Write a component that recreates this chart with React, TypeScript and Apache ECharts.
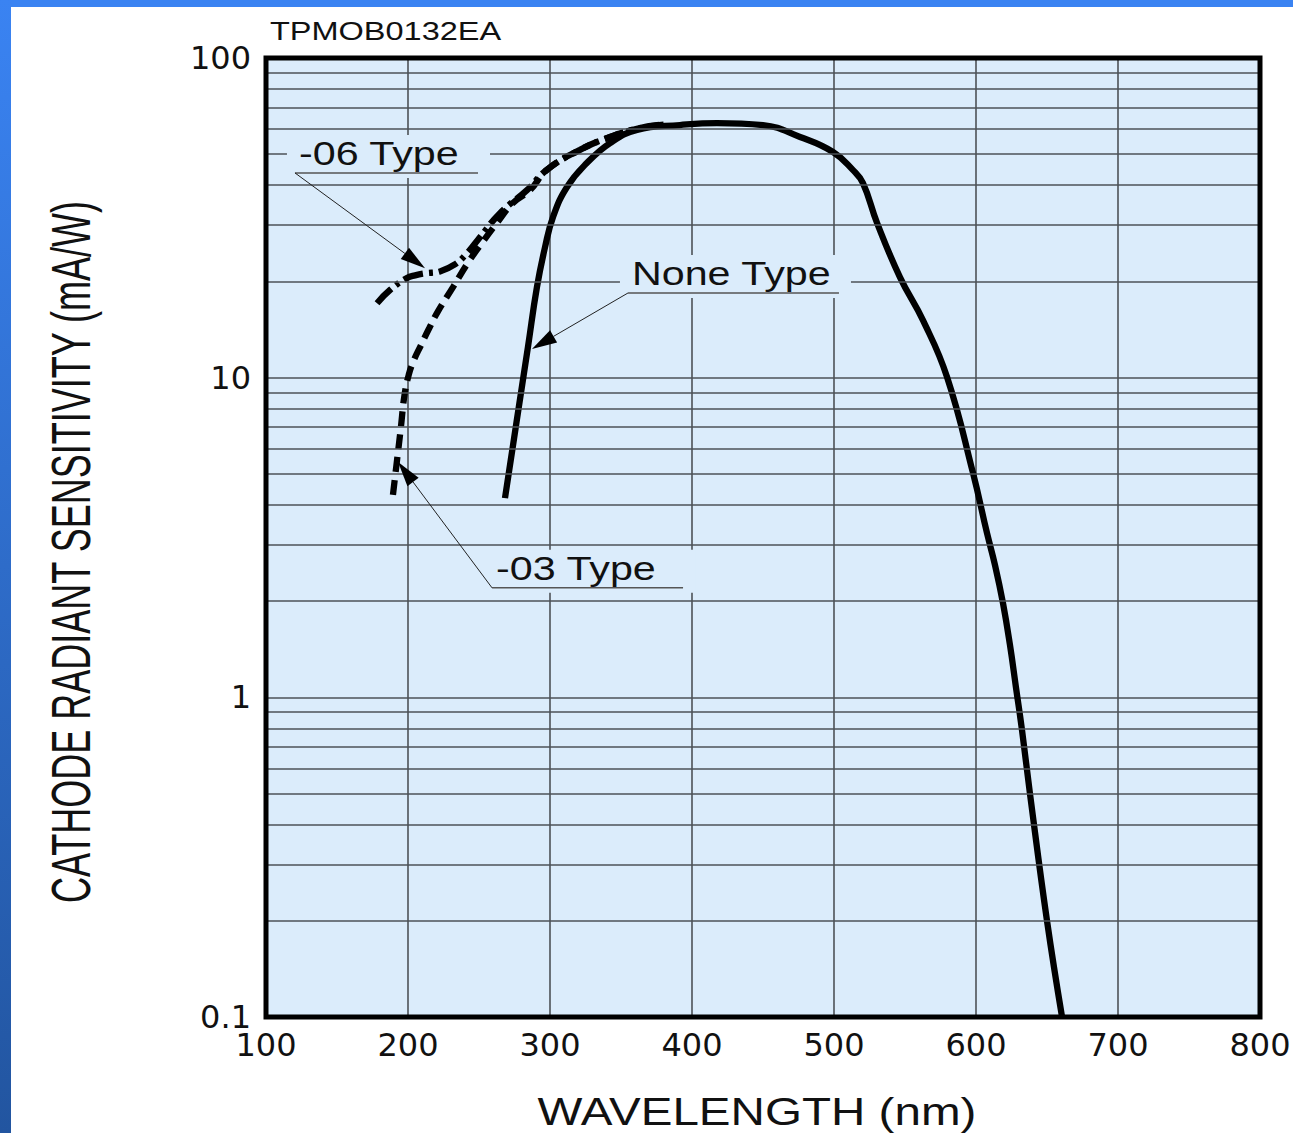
import React, { useEffect, useRef } from 'react';
import * as echarts from 'echarts';

// ---- data ----
const xTickValues = [100, 200, 300, 400, 500, 600, 700, 800];
const yTickValues = [0.1, 1, 10, 100];
const minorGridValues = [
  0.2, 0.3, 0.4, 0.5, 0.6, 0.7, 0.8, 0.9,
  2, 3, 4, 5, 6, 7, 8, 9,
  20, 30, 40, 50, 60, 70, 80, 90,
];

const noneWavelength = [268.3, 276.4, 284.5, 290.8, 296.5, 302.1, 312, 326.1, 342.3, 361.3, 391.5, 417.6, 450, 476.1, 499.3, 513.4, 520.4, 530.3, 546.5, 562.7, 579.6, 597.9, 607.7, 613.4, 619, 623.9, 628.2, 632.4, 638, 650, 660.6];
const noneSensitivity = [4.2, 7.25, 12.5, 19.2, 25.6, 31.8, 39.5, 47, 54.2, 59.6, 61.7, 62.6, 61.7, 56.6, 50.8, 44.6, 40.6, 30.5, 20.6, 15.1, 10.05, 5.03, 3.27, 2.59, 1.97, 1.46, 1.07, 0.79, 0.5, 0.2, 0.1];

const type06Wavelength = [178.2, 187.3, 199.3, 205, 212, 222.5, 233, 241.5, 249.3, 264.8, 283.8, 297.9, 321.1, 342.3, 363.4, 380];
const type06Sensitivity = [17.1, 18.8, 20.5, 20.9, 21.2, 21.5, 22.6, 24.5, 27.0, 32.7, 38.6, 44.7, 51.6, 56.6, 60.4, 61.9];

const type03Wavelength = [189.4, 192.3, 195, 197.5, 200.5, 204, 209, 215, 221, 231.7, 242.3, 252.1, 262.7, 273.9, 285.9, 297.9, 321.1, 342.3, 363.4, 380];
const type03Sensitivity = [4.3, 5.53, 7.0, 8.8, 10.2, 11.3, 12.6, 14.3, 16.1, 19.2, 22.9, 26.4, 30.5, 35.2, 38.6, 44.7, 51.6, 56.6, 60.4, 61.9];

const annotationLabels = ['-06 Type', 'None Type', '-03 Type'];
const annotationUnderlineStart = [[120.4, 43.7], [354.9, 18.4], [259.2, 2.2]];
const annotationUnderlineEndX = [249.3, 503.5, 393.7];
const annotationArrowTip = [[212, 22.0], [287.3, 12.3], [193, 5.45]];

const chartCode = 'TPMOB0132EA';
const xAxisTitle = 'WAVELENGTH (nm)';
const yAxisTitle = 'CATHODE RADIANT SENSITIVITY (mA/W)';

// ---- styles ----
const FILL = '#dbecfb';
const GRID = '#4d5257';
const FONT = 'Liberation Sans, Arial, Helvetica, sans-serif';
const CURVE_W = 6.3;

const zip = (xs: number[], ys: number[]) => xs.map((x, i) => [x, ys[i]]);

export default function App() {
  const ref = useRef<HTMLDivElement>(null);

  useEffect(() => {
    const el = ref.current as HTMLDivElement;
    const chart = echarts.init(el, null, { renderer: 'svg', width: 1293, height: 1133 });

    const option: any = {
      animation: false,
      backgroundColor: '#ffffff',
      grid: {
        left: 266, right: 33, top: 58, bottom: 116,
        show: true, backgroundColor: FILL, borderWidth: 0,
        outerBoundsMode: 'none',
      },
      xAxis: {
        type: 'value', min: 100, max: 800, interval: 100,
        axisLine: { show: false }, axisTick: { show: false },
        axisLabel: {
          fontFamily: 'DejaVu Sans', fontSize: 32, color: '#111', margin: 12,
          showMinLabel: true, showMaxLabel: true,
          formatter: (v: number) => (xTickValues.includes(Math.round(v)) ? String(Math.round(v)) : ''),
        },
        splitLine: { show: true, showMinLine: false, showMaxLine: false, lineStyle: { color: GRID, width: 1.6 } },
      },
      yAxis: {
        type: 'log', logBase: 10, min: 0.1, max: 100, splitNumber: 3,
        axisLine: { show: false }, axisTick: { show: false },
        axisLabel: {
          fontFamily: 'DejaVu Sans', fontSize: 32, color: '#111', margin: 15,
          showMinLabel: true, showMaxLabel: true,
          formatter: (v: number) => {
            const t = yTickValues.find((k) => Math.abs(Math.log10(k) - Math.log10(v)) < 1e-6);
            return t === undefined ? '' : String(t);
          },
        },
        splitLine: { show: true, showMinLine: false, showMaxLine: false, lineStyle: { color: GRID, width: 1.6 } },
      },
      series: [
        {
          type: 'line', name: 'grid', data: [], silent: true, z: 1,
          markLine: {
            silent: true, symbol: ['none', 'none'], label: { show: false },
            lineStyle: { color: GRID, width: 1.6, type: 'solid' },
            emphasis: { disabled: true },
            data: minorGridValues.map((v) => ({ yAxis: v })),
          },
        },
        {
          type: 'line', name: 'None Type', data: zip(noneWavelength, noneSensitivity),
          showSymbol: false, smooth: 0.45, z: 3, silent: true,
          lineStyle: { color: '#000', width: CURVE_W, cap: 'butt', join: 'round' },
        },
        {
          type: 'line', name: '-06 Type', data: zip(type06Wavelength, type06Sensitivity),
          showSymbol: false, smooth: 0.45, z: 4, silent: true,
          lineStyle: { color: '#000', width: CURVE_W, cap: 'butt', type: [20, 6, 4, 6] },
        },
        {
          type: 'line', name: '-03 Type', data: zip(type03Wavelength, type03Sensitivity),
          showSymbol: false, smooth: 0.45, z: 4, silent: true,
          lineStyle: { color: '#000', width: CURVE_W, cap: 'butt', type: [15, 8] },
        },
      ],
    };
    chart.setOption(option);

    const px = (p: number[]) => chart.convertToPixel({ gridIndex: 0 }, p) as number[];
    const g: any[] = [];

    // plot border
    const tl = px([100, 100]);
    const br = px([800, 0.1]);
    g.push({
      type: 'rect', z: 90, silent: true,
      shape: { x: tl[0], y: tl[1], width: br[0] - tl[0], height: br[1] - tl[1] },
      style: { fill: 'none', stroke: '#000', lineWidth: 5 },
    });

    // annotations
    annotationLabels.forEach((label, i) => {
      const L = px(annotationUnderlineStart[i]);
      const R = px([annotationUnderlineEndX[i], annotationUnderlineStart[i][1]]);
      const T = px(annotationArrowTip[i]);
      g.push({
        type: 'rect', z: 20, silent: true,
        shape: { x: L[0] - 8, y: L[1] - 38, width: R[0] - L[0] + 20, height: 43 },
        style: { fill: FILL },
      });
      g.push({
        type: 'line', z: 21, silent: true,
        shape: { x1: L[0], y1: L[1], x2: R[0], y2: R[1] },
        style: { stroke: '#555', lineWidth: 1.5 },
      });
      const dx = T[0] - L[0];
      const dy = T[1] - L[1];
      const len = Math.sqrt(dx * dx + dy * dy);
      const ux = dx / len;
      const uy = dy / len;
      const bx = T[0] - ux * 25;
      const by = T[1] - uy * 25;
      g.push({
        type: 'line', z: 21, silent: true,
        shape: { x1: L[0], y1: L[1], x2: bx, y2: by },
        style: { stroke: '#222', lineWidth: 1 },
      });
      g.push({
        type: 'polygon', z: 22, silent: true,
        shape: { points: [[T[0], T[1]], [bx - uy * 7, by + ux * 7], [bx + uy * 7, by - ux * 7]] },
        style: { fill: '#000' },
      });
      g.push({
        type: 'text', z: 22, silent: true,
        x: L[0] + 4, y: L[1] - 19, scaleX: 1.25, scaleY: 1,
        style: { text: label, fontFamily: FONT, fontSize: 33, fill: '#111', align: 'left', verticalAlign: 'middle' },
      });
    });

    // titles
    g.push({
      type: 'text', z: 30, silent: true, x: 270, y: 31, scaleX: 1.25, scaleY: 1,
      style: { text: chartCode, fontFamily: FONT, fontSize: 26, fill: '#111', align: 'left', verticalAlign: 'middle' },
    });
    g.push({
      type: 'text', z: 30, silent: true, x: (tl[0] + br[0]) / 2 - 6, y: 1112, scaleX: 1.22, scaleY: 1,
      style: { text: xAxisTitle, fontFamily: FONT, fontSize: 39, fill: '#111', align: 'center', verticalAlign: 'middle' },
    });
    g.push({
      type: 'text', z: 30, silent: true, x: 70, y: 552, rotation: Math.PI / 2, scaleX: 0.8, scaleY: 1.25,
      style: { text: yAxisTitle, fontFamily: FONT, fontSize: 45, fill: '#111', align: 'center', verticalAlign: 'middle' },
    });

    // slide frame
    g.push({
      type: 'rect', z: 100, silent: true,
      shape: { x: 0, y: 0, width: 1293, height: 7 },
      style: { fill: '#3a83f2' },
    });
    g.push({
      type: 'rect', z: 100, silent: true,
      shape: { x: 0, y: 0, width: 11, height: 1133 },
      style: {
        fill: new echarts.graphic.LinearGradient(0, 0, 0, 1, [
          { offset: 0, color: '#3a83f2' },
          { offset: 1, color: '#2255a0' },
        ]),
      },
    });

    chart.setOption({ graphic: g });

    return () => chart.dispose();
  }, []);

  return <div ref={ref} style={{ position: 'fixed', left: 0, top: 0, width: 1293, height: 1133 }} />;
}
